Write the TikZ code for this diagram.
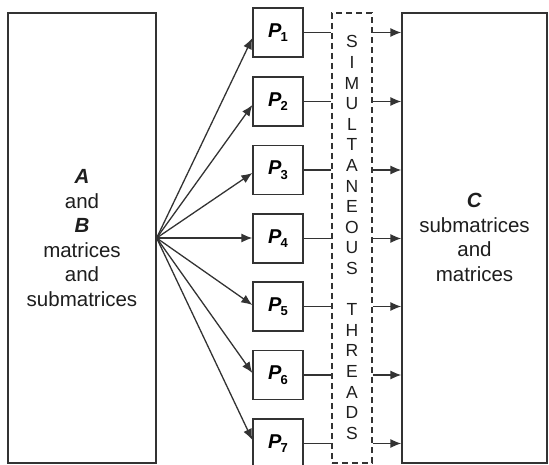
\documentclass[tikz,border=0pt]{standalone}
\usepackage{fontspec}
\setmainfont{Liberation Sans}
\usetikzlibrary{arrows.meta}
\definecolor{ln}{HTML}{333333}
\definecolor{tx}{HTML}{1E1E1E}
\begin{document}
\begin{tikzpicture}[x=1pt,y=-1pt,
  box/.style={draw=ln,line width=1.3pt,fill=white,inner sep=0pt},
  pbox/.style={box,minimum width=50pt,minimum height=49pt},
  conn/.style={draw=ln,line width=1.3pt},
  arr/.style={conn,-{Latex[length=11pt,width=9pt]}},
  big/.style={font=\fontsize{20.5}{24.6}\selectfont,text=tx,align=center},
  letters/.style={font=\fontsize{17.5}{20.6}\selectfont,text=tx,align=center}]
\useasboundingbox (0,0) rectangle (549,465);
% main boxes
\node[box,minimum width=148pt,minimum height=450pt] (L) at (82,238) {};
\node[box,minimum width=145pt,minimum height=450pt] (R) at (474.5,238) {};
\node[draw=ln,line width=1.2pt,dash pattern=on 6pt off 4pt,minimum width=40pt,minimum height=450pt,inner sep=0pt] (T) at (352,238) {};
% texts
\node[big] (Ltext) at (82,238) {\textbf{\textit{A}}\\and\\\textbf{\textit{B}}\\matrices\\and\\submatrices};
\node[big] (Rtext) at (474.5,237.5) {\textbf{\textit{C}}\\submatrices\\and\\matrices};
\node[letters] (Ttext) at (352,237.5) {S\\I\\M\\U\\L\\T\\A\\N\\E\\O\\U\\S\\[20.6pt]T\\H\\R\\E\\A\\D\\S};
% processors
\foreach \i/\y/\dy in {1/32.5/5.5,2/101.5/3.5,3/170/3,4/238.5/-0.5,5/306.5/-1.5,6/375/-2,7/443.5/-3.5}{
  \node[pbox] (p\i) at (278,\y) {\fontsize{20}{20}\selectfont\textbf{\textit{P}}\kern-1pt\raisebox{-4.5pt}{\fontsize{13}{13}\selectfont\bfseries\i}};
  \coordinate (o\i) at (L.east |- 0,238);
  \draw[arr] (o\i) -- ([yshift=-\dy pt]p\i.west);
  \draw[conn] (p\i.east) -- (p\i.east -| T.west);
  \draw[arr] (p\i.east -| T.east) -- (p\i.east -| R.west);
}
\end{tikzpicture}
\end{document}
